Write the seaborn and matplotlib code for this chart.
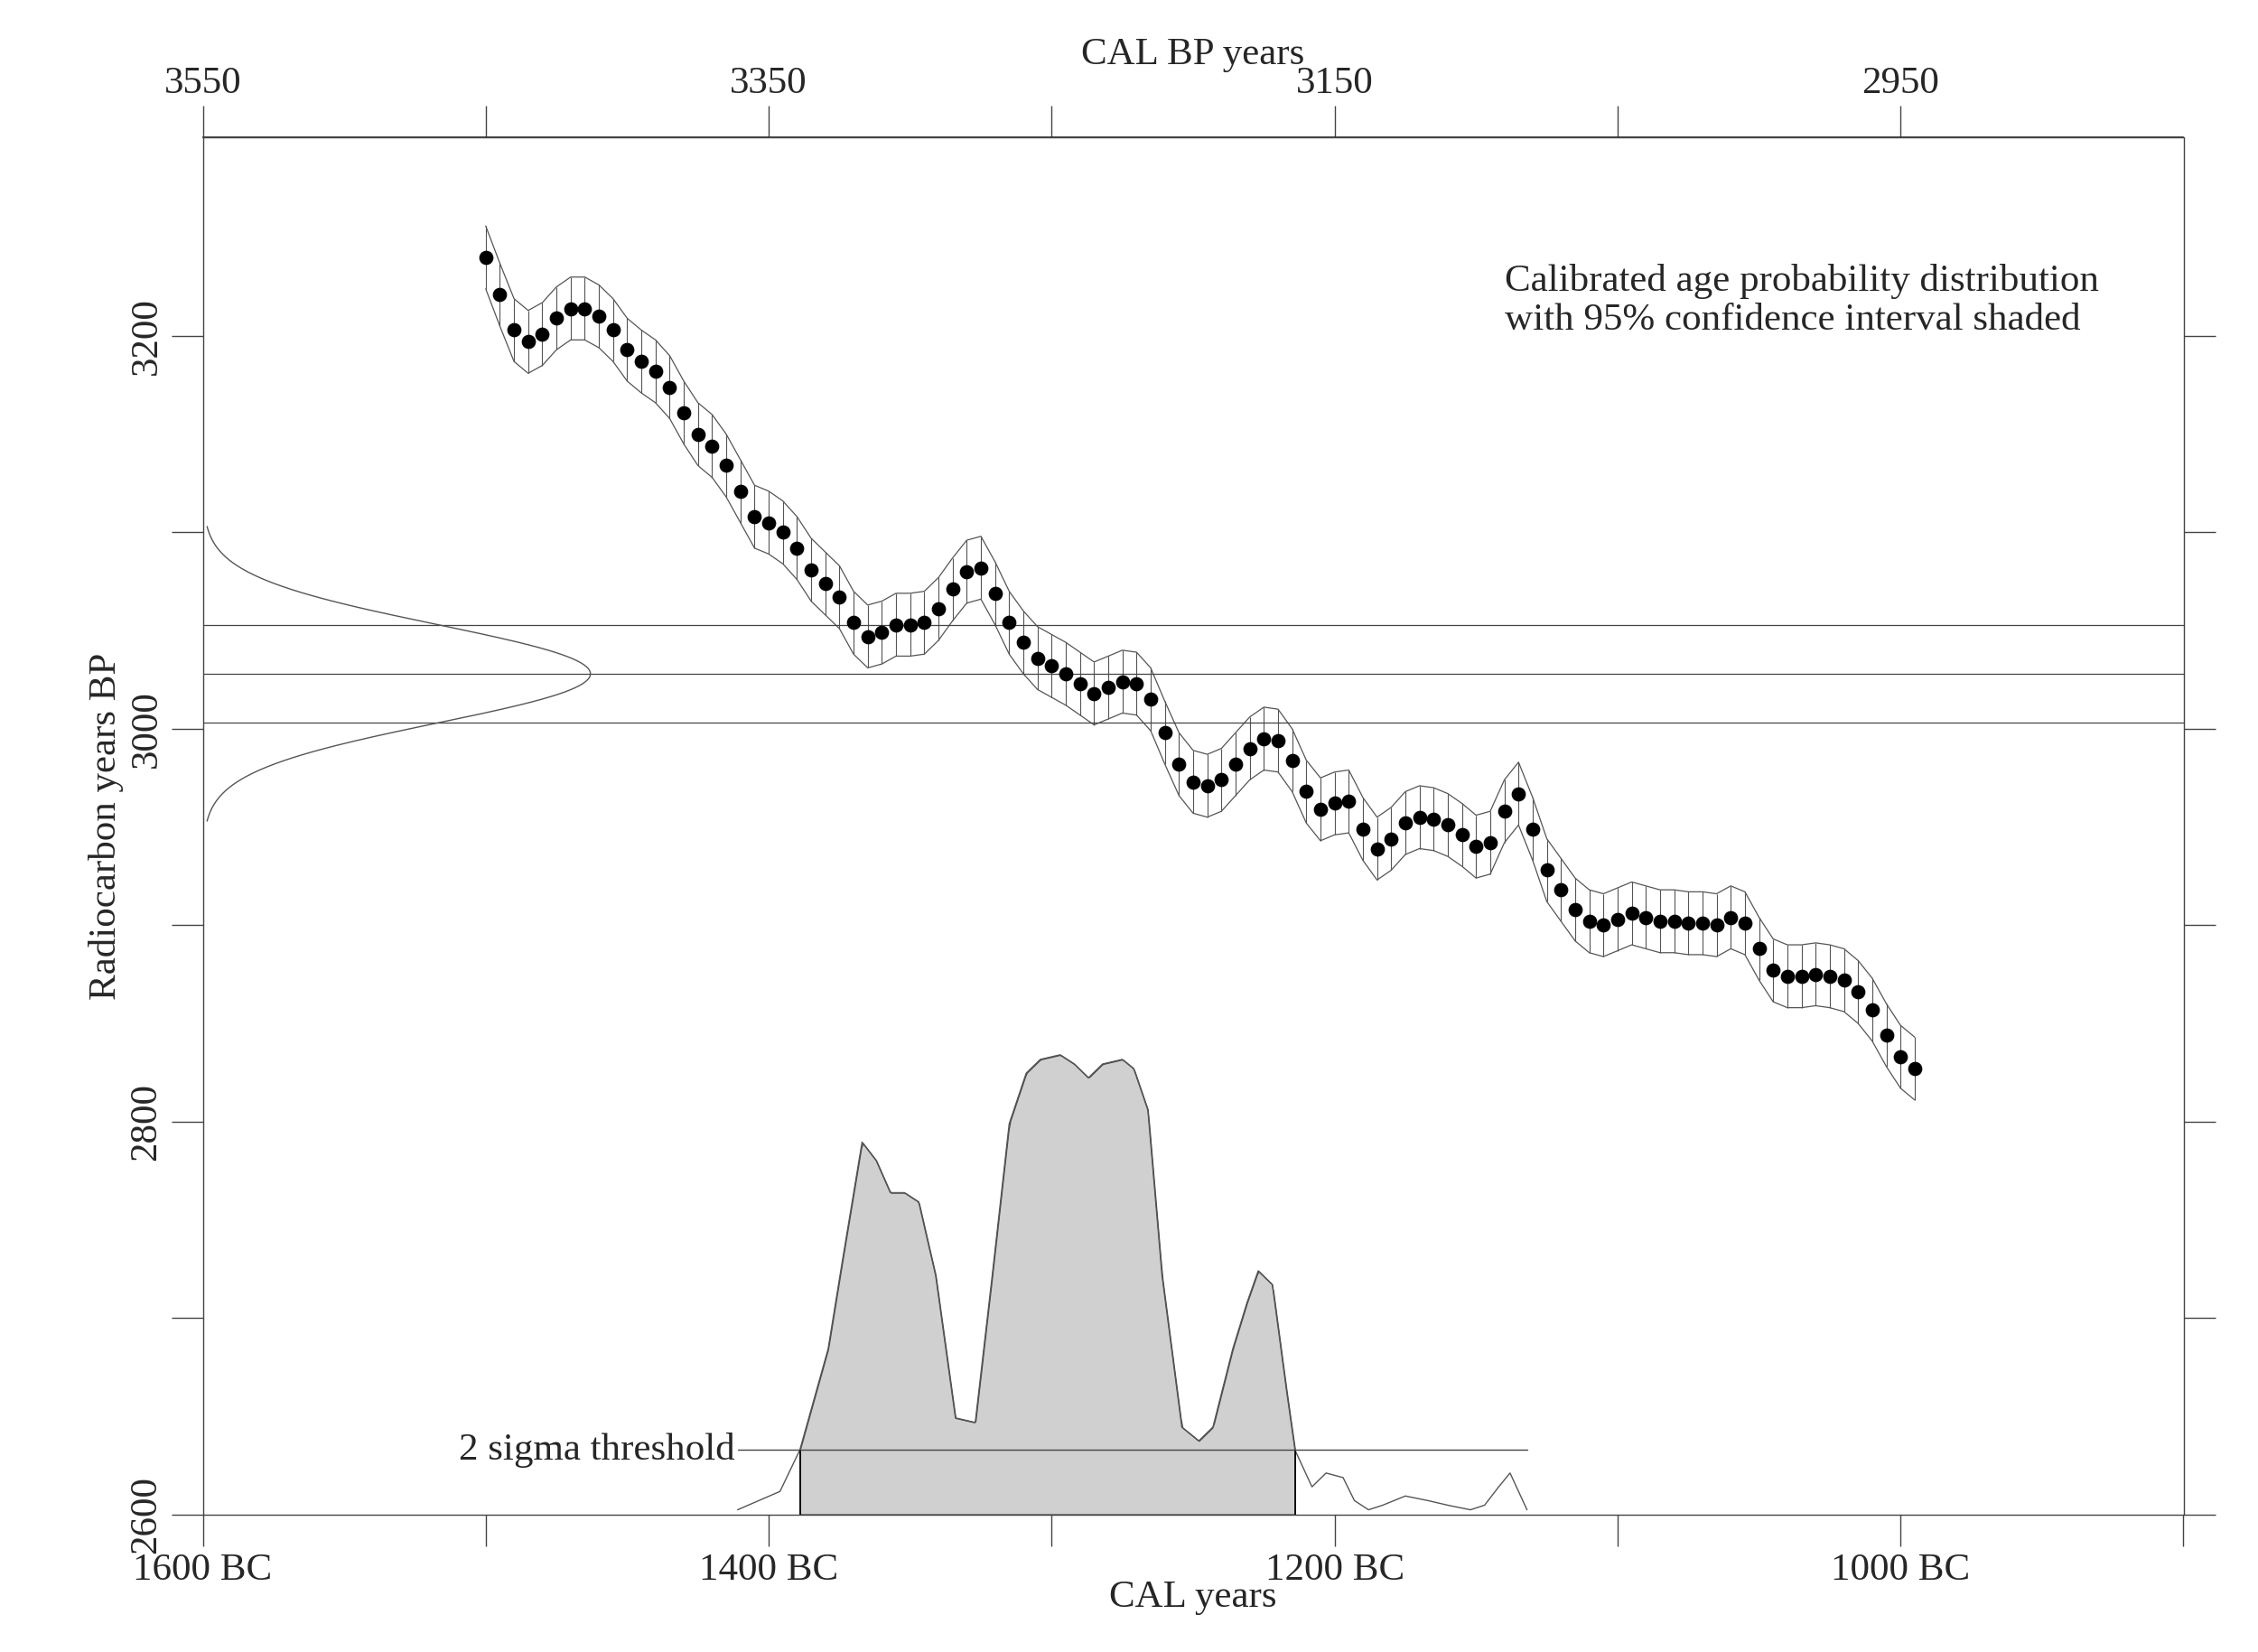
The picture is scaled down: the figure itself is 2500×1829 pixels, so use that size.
import matplotlib
matplotlib.use("Agg")
import matplotlib.pyplot as plt
import numpy as np
import pandas as pd
import seaborn as sns

# calibration curve (radiocarbon BP), every 5 cal years from 1500 BC
curve_start = -1500
curve_bp = [3240, 3221, 3203, 3197, 3201, 3209, 3214, 3214, 3210, 3203,
            3193, 3187, 3182, 3174, 3161, 3150, 3144, 3134, 3121, 3108,
            3105, 3100, 3092, 3081, 3074, 3067, 3054, 3047, 3049, 3053,
            3053, 3054, 3061, 3071, 3080, 3082, 3069, 3054, 3044, 3036,
            3032, 3028, 3023, 3018, 3021, 3024, 3023, 3015, 2998, 2982,
            2973, 2971, 2974, 2982, 2990, 2995, 2994, 2984, 2968, 2959,
            2962, 2963, 2949, 2939, 2944, 2952, 2955, 2954, 2951, 2946,
            2940, 2942, 2958, 2967, 2949, 2928, 2918, 2908, 2902, 2900,
            2903, 2906, 2904, 2902, 2902, 2901, 2901, 2900, 2904, 2901,
            2888, 2877, 2874, 2874, 2875, 2874, 2872, 2866, 2857, 2844,
            2833, 2827]
curve_err = 16

# measured date
date_bp = 3028
date_sigma = 25

# calibrated probability (relative), cal years BC as negative
prob_years = [-1411, -1396, -1389, -1379, -1374, -1367, -1362, -1357, -1352, -1347,
              -1341, -1334, -1327, -1321, -1315, -1309, -1304, -1297, -1292, -1287,
              -1282, -1275, -1271, -1266, -1261, -1254, -1248, -1243, -1236, -1231,
              -1227, -1222, -1217, -1214, -1208, -1203, -1197, -1193, -1188, -1183,
              -1175, -1167, -1160, -1152, -1147, -1142, -1138, -1132]
prob_rel = [0.01, 0.05, 0.14, 0.36, 0.55, 0.81, 0.77, 0.70, 0.70, 0.68,
            0.52, 0.21, 0.20, 0.52, 0.85, 0.96, 0.99, 1.00, 0.98, 0.95,
            0.98, 0.99, 0.97, 0.88, 0.52, 0.19, 0.16, 0.19, 0.36, 0.46,
            0.53, 0.50, 0.27, 0.14, 0.06, 0.09, 0.08, 0.03, 0.01, 0.02,
            0.04, 0.03, 0.02, 0.01, 0.02, 0.06, 0.09, 0.01]
threshold_rel = 0.14
range_lo, range_hi = -1389, -1214

x_ticks = [-1600, -1400, -1200, -1000]
x_labels = ["1600 BC", "1400 BC", "1200 BC", "1000 BC"]
bp_ticks = [3550, 3350, 3150, 2950]

FS = 31

sns.set_theme(style="white")
plt.rcParams["font.family"] = ["Liberation Serif", "DejaVu Serif"]
plt.rcParams["font.size"] = FS

fig = plt.figure(figsize=(25, 18.29), dpi=100)
ax = fig.add_axes([0.0898, 0.0833, 0.8772, 0.8334])
xmin, xmax, ymin, ymax = -1600, -904, 2600, 3301
ax.set_xlim(xmin, xmax)
ax.set_ylim(ymin, ymax)

years = curve_start + 5 * np.arange(len(curve_bp))
bp = np.array(curve_bp, dtype=float)
df = pd.DataFrame({"year": years, "bp": bp})
# band with vertical hatch
ax.plot(years, bp + curve_err, color="#555555", lw=0.9)
ax.plot(years, bp - curve_err, color="#555555", lw=0.9)
ax.vlines(years, bp - curve_err, bp + curve_err, color="#555555", lw=0.8)
sns.scatterplot(data=df, x="year", y="bp", color="black", s=110, edgecolor="black", ax=ax, zorder=5)

# measured date gaussian on left axis
for v in (date_bp - date_sigma, date_bp, date_bp + date_sigma):
    ax.axhline(v, color="#444444", lw=0.9)
gy = np.linspace(date_bp - 3 * date_sigma, date_bp + 3 * date_sigma, 300)
gx = xmin + 137 * np.exp(-0.5 * ((gy - date_bp) / date_sigma) ** 2)
ax.plot(gx, gy, color="#555555", lw=1.0)

# probability distribution
peak_h = 234
py = ymin + np.array(prob_rel) * peak_h
pdf = pd.DataFrame({"year": prob_years, "p": py})
sns.lineplot(data=pdf, x="year", y="p", color="#555555", lw=1.0, ax=ax, sort=False)
mask_x = np.linspace(range_lo, range_hi, 300)
mask_y = np.interp(mask_x, prob_years, py)
ax.fill_between(mask_x, ymin, mask_y, color="#d0d0d0", edgecolor="#444444", lw=1.0)
ax.vlines([range_lo, range_hi], ymin, np.interp([range_lo, range_hi], prob_years, py), color="black", lw=1.2)
thr = ymin + threshold_rel * peak_h
ax.plot([prob_years[0], prob_years[-1]], [thr, thr], color="#444444", lw=1.0)
ax.text(prob_years[0] - 1, thr, "2 sigma threshold", ha="right", va="center", fontsize=FS)

ax.text(-1140, 3218, "Calibrated age probability distribution\nwith 95% confidence interval shaded",
        ha="left", va="center", fontsize=FS, linespacing=1.15)

ax.set_xticks(x_ticks)
ax.set_xticklabels(x_labels)
ax.set_xticks([-1500, -1300, -1100, -900], minor=True)
ax.set_yticks([2600, 2800, 3000, 3200])
ax.set_yticks([2700, 2900, 3100], minor=True)
ax.set_yticklabels(["2600", "2800", "3000", "3200"], rotation=90, va="center")
ax.tick_params(which="both", direction="out", length=25, width=1, color="#444444",
               left=True, right=True, bottom=True, top=False, labelsize=FS, pad=6)
ax.set_xlabel("CAL years", fontsize=FS, labelpad=-6)
ax.set_ylabel("Radiocarbon years BP", fontsize=FS, labelpad=4)

top = ax.secondary_xaxis("top", functions=(lambda x: 1950 - x, lambda b: 1950 - b))
top.set_xticks(bp_ticks)
top.set_xticks([3450, 3250, 3050], minor=True)
top.tick_params(which="both", direction="out", length=25, width=1, color="#444444", labelsize=FS, pad=4)
top.set_xlabel("CAL BP years", fontsize=FS, labelpad=2)

for s in ax.spines.values():
    s.set_color("#444444")
    s.set_linewidth(1)

fig.savefig("out.png", dpi=100)
